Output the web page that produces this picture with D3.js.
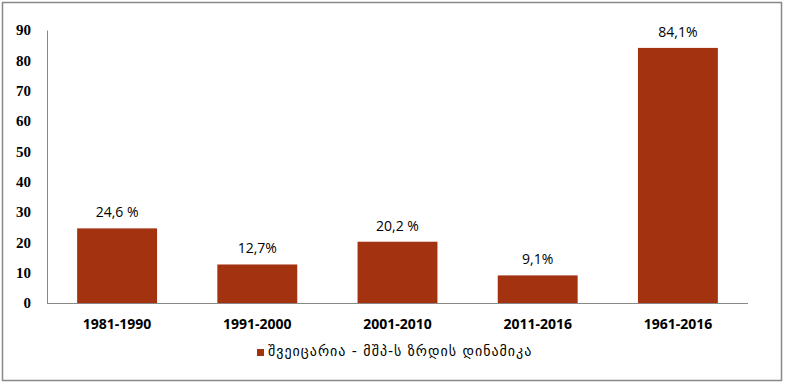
<!DOCTYPE html>
<html>
<head>
<meta charset="utf-8">
<script src="https://cdn.jsdelivr.net/npm/d3@7"></script>
<style>
  body { margin: 0; background: #fff; }
  svg { display: block; }
</style>
</head>
<body>
<svg id="chart" width="785" height="384"></svg>
<script>
const periods = ['1981-1990', '1991-2000', '2001-2010', '2011-2016', '1961-2016'];
const growth = [24.6, 12.7, 20.2, 9.1, 84.1];
const valueLabels = ['24,6 %', '12,7%', '20,2 %', '9,1%', '84,1%'];
const yTicks = [0, 10, 20, 30, 40, 50, 60, 70, 80, 90];
const seriesName = 'შვეიცარია - მშპ-ს ზრდის დინამიკა';

const W = 785, H = 384;
const margin = { left: 47, right: 37, top: 30, bottom: 81 };
const barColor = '#A33210';
const gridColor = '#888';

const svg = d3.select('#chart');

// outer frame
svg.append('rect')
  .attr('x', 2.5).attr('y', 2.5)
  .attr('width', W - 6).attr('height', H - 6)
  .attr('fill', '#fff')
  .attr('stroke', gridColor)
  .attr('stroke-width', 1.5);

const x = d3.scaleBand()
  .domain(periods)
  .range([margin.left, W - margin.right])
  .paddingInner(0.43)
  .paddingOuter(0.215);

const y = d3.scaleLinear()
  .domain([0, 90])
  .range([H - margin.bottom, margin.top]);

// y axis
const yAxis = svg.append('g')
  .attr('transform', `translate(${margin.left},0)`)
  .call(d3.axisLeft(y).tickValues(yTicks).tickSize(0).tickPadding(16));
yAxis.select('.domain').attr('stroke', gridColor);
yAxis.selectAll('text')
  .attr('fill', '#000')
  .style('font', 'bold 15px "Liberation Serif", serif');

// bars
svg.append('g').selectAll('rect')
  .data(growth)
  .join('rect')
  .attr('x', (d, i) => x(periods[i]))
  .attr('y', d => y(d))
  .attr('width', x.bandwidth())
  .attr('height', d => y(0) - y(d))
  .attr('fill', barColor);

// x axis
const xAxis = svg.append('g')
  .attr('transform', `translate(0,${y(0)})`)
  .call(d3.axisBottom(x).tickSize(0).tickPadding(16));
xAxis.select('.domain').attr('stroke', gridColor).attr('d', `M${margin.left},0.5H${W - margin.right}`);
xAxis.selectAll('text')
  .attr('fill', '#000')
  .style('font', 'bold 14px "Open Sans", "DejaVu Sans", sans-serif');

// data labels
svg.append('g').selectAll('text')
  .data(growth)
  .join('text')
  .attr('x', (d, i) => x(periods[i]) + x.bandwidth() / 2)
  .attr('y', d => y(d) - 11)
  .attr('text-anchor', 'middle')
  .style('font', '14px "Open Sans", "DejaVu Sans", sans-serif')
  .text((d, i) => valueLabels[i]);

// legend
const legend = svg.append('g').attr('transform', 'translate(257,349)');
legend.append('rect')
  .attr('width', 7).attr('height', 7)
  .attr('fill', barColor);
legend.append('text')
  .attr('x', 11).attr('y', 7)
  .style('font', '14px "DejaVu Sans", sans-serif')
  .style('letter-spacing', '1px')
  .text(seriesName);
</script>
</body>
</html>
